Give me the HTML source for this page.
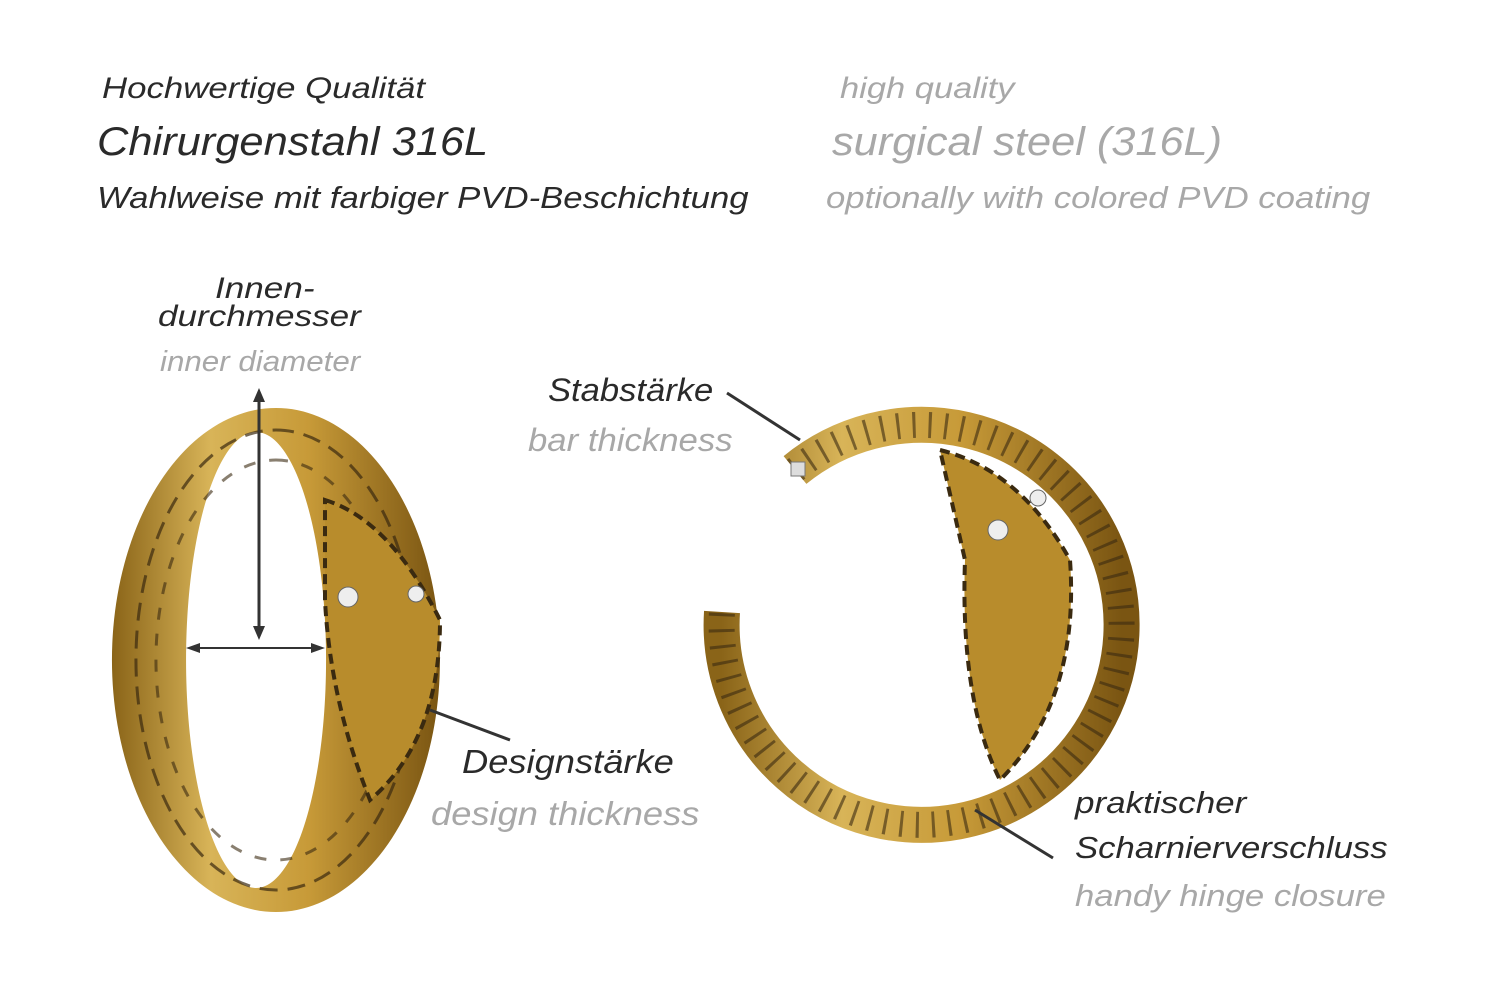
<!DOCTYPE html>
<html><head><meta charset="utf-8"><style>
html,body{margin:0;padding:0;background:#fff;}
body{width:1500px;height:1001px;position:relative;overflow:hidden;font-family:"Liberation Sans",sans-serif;font-style:italic;}
.t{position:absolute;white-space:nowrap;line-height:1;transform-origin:0 0;}
.d{color:#2a2a2a}.g{color:#a8a8a8}
</style></head><body>
<svg width="1500" height="1001" style="position:absolute;left:0;top:0">
<defs>
<linearGradient id="gl" x1="0" y1="0" x2="1" y2="0">
<stop offset="0" stop-color="#8a6418"/><stop offset="0.3" stop-color="#d8b458"/><stop offset="0.6" stop-color="#c79a38"/><stop offset="1" stop-color="#7a5512"/></linearGradient>
</defs>
<!-- left ring -->
<path fill-rule="evenodd" fill="url(#gl)" d="M276 408 A164 252 0 1 1 275.9 408 Z M256 432 A70 228 0 1 0 256.1 432 Z"/>
<path fill="none" stroke="#3a2a10" stroke-width="3" opacity="0.7" stroke-dasharray="18 10" d="M276 430 A140 230 0 1 1 275.9 430 Z"/>
<path fill="none" stroke="#3a2a10" stroke-width="3" opacity="0.6" stroke-dasharray="12 14" d="M276 460 A120 200 0 1 1 275.9 460 Z"/>
<path d="M325 500 Q390 520 440 620 Q440 740 370 800 Q330 700 325 600Z" fill="#b88c2c" stroke="#3a2a10" stroke-width="4" stroke-dasharray="10 6"/>
<circle cx="348" cy="597" r="10" fill="#eee" stroke="#666"/><circle cx="416" cy="594" r="8" fill="#eee" stroke="#666"/>
<!-- right ring -->
<path d="M795 470 A200 200 0 1 1 722 612" fill="none" stroke="url(#gl)" stroke-width="36"/>
<path d="M795 470 A200 200 0 1 1 722 612" fill="none" stroke="#3a2a10" stroke-width="26" stroke-dasharray="3 13" opacity="0.6"/>
<path d="M940 450 Q1020 470 1070 560 Q1080 700 1000 780 Q960 700 965 560Z" fill="#b88c2c" stroke="#3a2a10" stroke-width="4" stroke-dasharray="10 6"/>
<circle cx="998" cy="530" r="10" fill="#eee" stroke="#666"/><circle cx="1038" cy="498" r="8" fill="#eee" stroke="#666"/>
<rect x="791" y="462" width="14" height="14" fill="#ddd" stroke="#777"/>
<!-- lines -->
<g stroke="#333" stroke-width="3" fill="#333">
<line x1="259" y1="398" x2="259" y2="630"/>
<path d="M259 388 l-6 14 h12z M259 640 l-6 -14 h12z" stroke="none"/>
<line x1="196" y1="648" x2="315" y2="648" stroke-width="2"/>
<path d="M186 648 l14 -5 v10z M325 648 l-14 -5 v10z" stroke="none"/>
<line x1="430" y1="710" x2="510" y2="740"/>
<line x1="727" y1="393" x2="800" y2="440"/>
<line x1="975" y1="810" x2="1053" y2="858"/>
</g>
</svg>
<div class="t d" style="left:102px;top:74px;font-size:30px;transform:scaleX(1.16)">Hochwertige Qualität</div>
<div class="t d" style="left:97px;top:122px;font-size:40px;transform:scaleX(1.086)">Chirurgenstahl 316L</div>
<div class="t d" style="left:97px;top:182px;font-size:31px;transform:scaleX(1.12)">Wahlweise mit farbiger PVD-Beschichtung</div>
<div class="t g" style="left:840px;top:74px;font-size:30px;transform:scaleX(1.15)">high quality</div>
<div class="t g" style="left:832px;top:122px;font-size:40px;transform:scaleX(1.083)">surgical steel (316L)</div>
<div class="t g" style="left:826px;top:182px;font-size:31px;transform:scaleX(1.12)">optionally with colored PVD coating</div>
<div class="t d" style="left:215px;top:274px;font-size:30px;transform:scaleX(1.17)">Innen-</div>
<div class="t d" style="left:158px;top:302px;font-size:30px;transform:scaleX(1.17)">durchmesser</div>
<div class="t g" style="left:160px;top:348px;font-size:29px;transform:scaleX(1.08)">inner diameter</div>
<div class="t d" style="left:548px;top:374px;font-size:32px;transform:scaleX(1.08)">Stabstärke</div>
<div class="t g" style="left:528px;top:424px;font-size:32px;transform:scaleX(1.085)">bar thickness</div>
<div class="t d" style="left:462px;top:745px;font-size:33px;transform:scaleX(1.1)">Designstärke</div>
<div class="t g" style="left:431px;top:797px;font-size:33px;transform:scaleX(1.1)">design thickness</div>
<div class="t d" style="left:1075px;top:787px;font-size:31px;transform:scaleX(1.13)">praktischer</div>
<div class="t d" style="left:1075px;top:832px;font-size:31px;transform:scaleX(1.12)">Scharnierverschluss</div>
<div class="t g" style="left:1075px;top:880px;font-size:31px;transform:scaleX(1.12)">handy hinge closure</div>
</body></html>
